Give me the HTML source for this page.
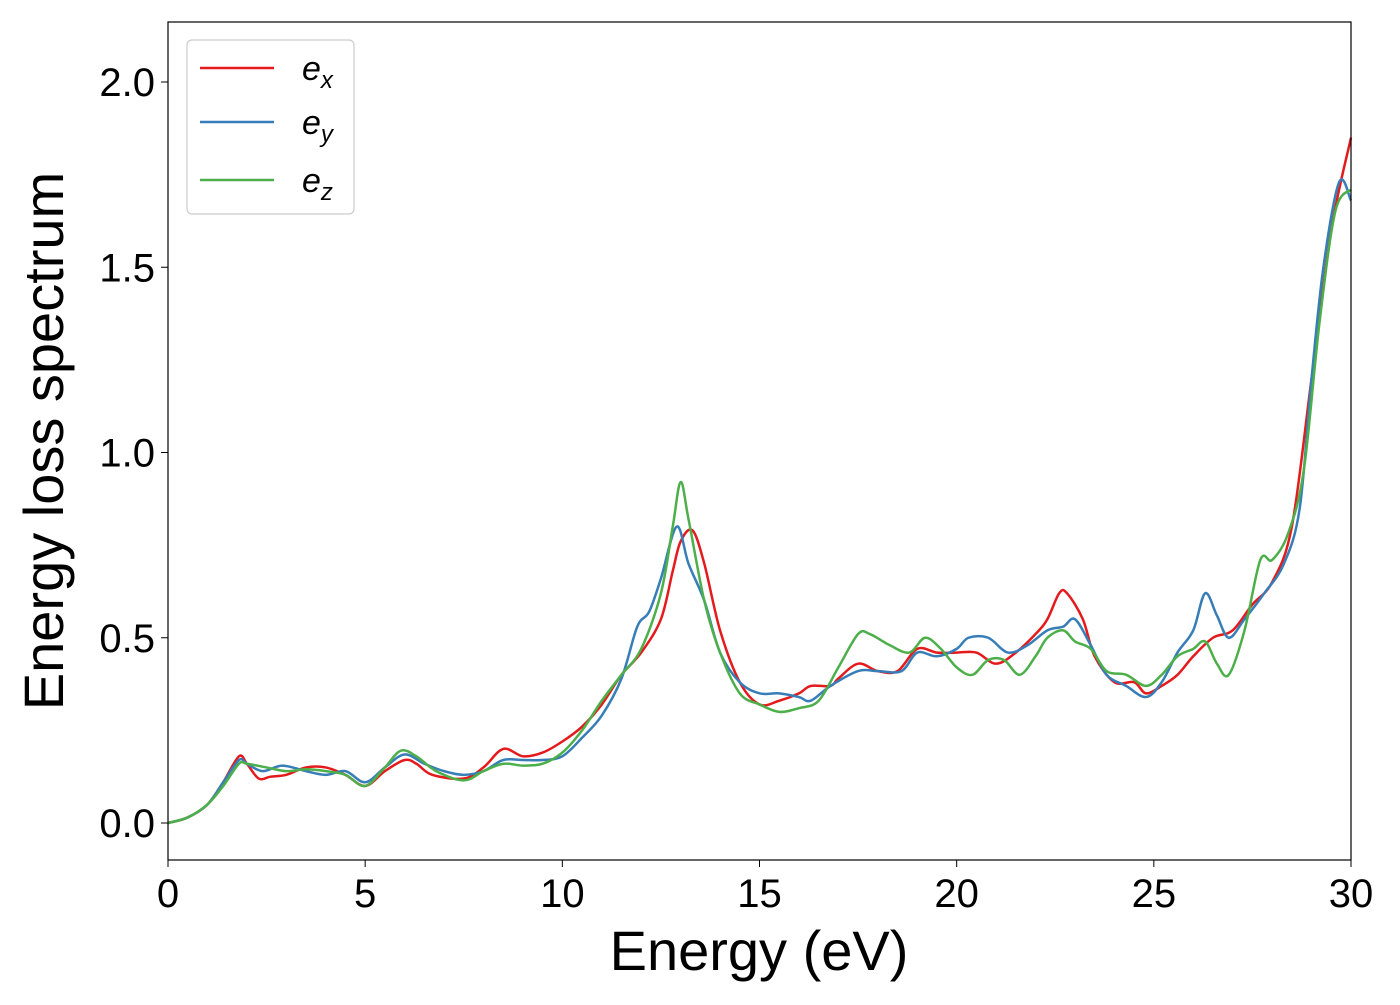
<!DOCTYPE html>
<html><head><meta charset="utf-8"><style>
body{margin:0;background:#fff;}
svg text{font-family:"Liberation Sans","DejaVu Sans",sans-serif;fill:#000;}
</style></head><body>
<svg id="chart" width="1400" height="1000" viewBox="0 0 1400 1000">
<rect x="0" y="0" width="1400" height="1000" fill="#fff"/>
<g id="series"></g>
<rect x="168" y="22" width="1183" height="838" fill="none" stroke="#000" stroke-width="1.2"/>
<g id="xticks"></g>
<g id="yticks"></g>
<text x="759" y="970" font-size="56" text-anchor="middle">Energy (eV)</text>
<text transform="translate(63,441) rotate(-90)" font-size="56" text-anchor="middle">Energy loss spectrum</text>
<g>
<rect x="187" y="40" width="167" height="174" rx="5" fill="#fff" stroke="#ccc" stroke-width="1.2"/>
<line x1="200" y1="68" x2="274" y2="68" stroke="#e41a1c" stroke-width="2.5"/>
<text x="302" y="80" font-size="34" font-style="italic">e<tspan font-size="24" dy="8">x</tspan></text>
<line x1="200" y1="122" x2="274" y2="122" stroke="#377eb8" stroke-width="2.5"/>
<text x="302" y="134" font-size="34" font-style="italic">e<tspan font-size="24" dy="8">y</tspan></text>
<line x1="200" y1="180" x2="274" y2="180" stroke="#4daf4a" stroke-width="2.5"/>
<text x="302" y="192" font-size="34" font-style="italic">e<tspan font-size="24" dy="8">z</tspan></text>
</g>
</svg>
<script>
const xTicks=[0,5,10,15,20,25,30];
const yTicks=[0.0,0.5,1.0,1.5,2.0];
const exX=[0,0.5,1,1.4,1.8,2,2.3,2.6,3,3.5,4,4.5,5,5.5,6,6.3,6.7,7.5,8,8.5,9,9.5,10,10.5,11,11.5,12,12.5,12.8,13.0,13.3,13.6,14,14.5,15,15.5,16,16.3,16.8,17,17.5,18,18.5,19,19.5,20,20.5,21,21.5,22,22.3,22.6,22.8,23.2,23.5,24,24.5,24.8,25.2,25.6,26,26.5,27,27.5,28,28.5,29,29.5,30];
const exY=[0,0.015,0.05,0.11,0.18,0.16,0.12,0.125,0.13,0.15,0.15,0.13,0.1,0.14,0.17,0.16,0.13,0.12,0.15,0.2,0.18,0.19,0.22,0.26,0.32,0.4,0.46,0.55,0.68,0.76,0.79,0.7,0.52,0.38,0.32,0.33,0.35,0.37,0.37,0.39,0.43,0.41,0.41,0.47,0.46,0.46,0.46,0.43,0.46,0.51,0.55,0.62,0.62,0.55,0.45,0.38,0.38,0.35,0.37,0.4,0.45,0.5,0.52,0.59,0.65,0.8,1.2,1.6,1.85];
const eyX=[0,0.5,1,1.4,1.8,2,2.4,2.9,3.5,4,4.5,5,5.5,6,6.5,7,7.5,8,8.5,9,9.5,10,10.5,11,11.5,11.9,12.2,12.5,12.9,13.2,13.6,14,14.5,15,15.5,16,16.3,16.8,17.5,18,18.6,19,19.5,20,20.3,20.8,21.3,21.8,22.3,22.7,23,23.4,23.8,24.3,24.8,25.2,25.6,26,26.3,26.6,26.9,27.3,27.8,28.3,28.7,29,29.3,29.7,30];
const eyY=[0,0.015,0.05,0.11,0.17,0.16,0.14,0.155,0.14,0.13,0.14,0.11,0.15,0.185,0.16,0.14,0.13,0.14,0.17,0.17,0.17,0.18,0.23,0.29,0.39,0.53,0.57,0.66,0.8,0.7,0.6,0.46,0.38,0.35,0.35,0.34,0.33,0.37,0.41,0.41,0.41,0.46,0.45,0.47,0.5,0.5,0.46,0.48,0.52,0.53,0.55,0.48,0.4,0.37,0.34,0.38,0.46,0.52,0.62,0.56,0.5,0.55,0.62,0.7,0.85,1.2,1.5,1.73,1.68];
const ezX=[0,0.5,1,1.4,1.8,2,2.5,3,3.5,4,4.5,5,5.5,5.9,6.3,6.8,7.5,8,8.5,9,9.5,10,10.5,11,11.5,12,12.5,12.8,13.0,13.2,13.6,14,14.5,15,15.5,16,16.5,17,17.5,17.8,18.3,18.8,19.2,19.6,20,20.4,20.8,21.2,21.6,22,22.3,22.7,23,23.4,23.8,24.3,24.8,25.2,25.6,26,26.3,26.6,26.9,27.3,27.7,28,28.4,28.8,29.2,29.6,30];
const ezY=[0,0.015,0.05,0.1,0.16,0.16,0.15,0.14,0.145,0.14,0.13,0.1,0.15,0.195,0.18,0.14,0.115,0.14,0.16,0.155,0.16,0.19,0.25,0.33,0.4,0.47,0.62,0.8,0.92,0.82,0.6,0.46,0.35,0.32,0.3,0.31,0.33,0.42,0.51,0.51,0.48,0.46,0.5,0.47,0.42,0.4,0.44,0.44,0.4,0.45,0.5,0.52,0.49,0.47,0.41,0.4,0.37,0.4,0.45,0.47,0.49,0.43,0.4,0.52,0.71,0.71,0.78,0.95,1.35,1.65,1.71];
const NS="http://www.w3.org/2000/svg";
const X0=168,X1=1351,Y0=823,YS=370.5;
function sx(v){return X0+(X1-X0)*v/30;}
function sy(v){return Y0-v*YS;}
function pathFor(xs,ys){
  const p=xs.map((x,i)=>[sx(x),sy(ys[i])]);
  let d="M"+p[0][0]+","+p[0][1];
  for(let i=0;i<p.length-1;i++){
    const a=p[Math.max(0,i-1)],b=p[i],c=p[i+1],e=p[Math.min(p.length-1,i+2)];
    const c1=[b[0]+(c[0]-a[0])/6,b[1]+(c[1]-a[1])/6];
    const c2=[c[0]-(e[0]-b[0])/6,c[1]-(e[1]-b[1])/6];
    d+=" C"+c1[0]+","+c1[1]+" "+c2[0]+","+c2[1]+" "+c[0]+","+c[1];
  }
  return d;
}
const g=document.getElementById("series");
[[exX,exY,"#e41a1c","line-ex"],[eyX,eyY,"#377eb8","line-ey"],[ezX,ezY,"#4daf4a","line-ez"]].forEach(s=>{
  const el=document.createElementNS(NS,"path");
  el.setAttribute("d",pathFor(s[0],s[1]));
  el.setAttribute("fill","none");el.setAttribute("stroke",s[2]);el.setAttribute("stroke-width","2.5");
  
  
  g.appendChild(el);
});
const xg=document.getElementById("xticks");
xTicks.forEach(t=>{
  const l=document.createElementNS(NS,"line");
  l.setAttribute("x1",sx(t));l.setAttribute("x2",sx(t));l.setAttribute("y1",860);l.setAttribute("y2",867);l.setAttribute("stroke","#000");
  
  
  xg.appendChild(l);
  const tx=document.createElementNS(NS,"text");
  tx.setAttribute("x",sx(t));tx.setAttribute("y",907);tx.setAttribute("font-size","40");tx.setAttribute("text-anchor","middle");
  tx.textContent=t;
  
  
  xg.appendChild(tx);
});
const yg=document.getElementById("yticks");
yTicks.forEach(t=>{
  const l=document.createElementNS(NS,"line");
  l.setAttribute("x1",161);l.setAttribute("x2",168);l.setAttribute("y1",sy(t));l.setAttribute("y2",sy(t));l.setAttribute("stroke","#000");
  
  
  yg.appendChild(l);
  const tx=document.createElementNS(NS,"text");
  tx.setAttribute("x",155);tx.setAttribute("y",sy(t)+14);tx.setAttribute("font-size","40");tx.setAttribute("text-anchor","end");
  tx.textContent=t.toFixed(1);
  
  
  yg.appendChild(tx);
});
</script>
</body></html>
